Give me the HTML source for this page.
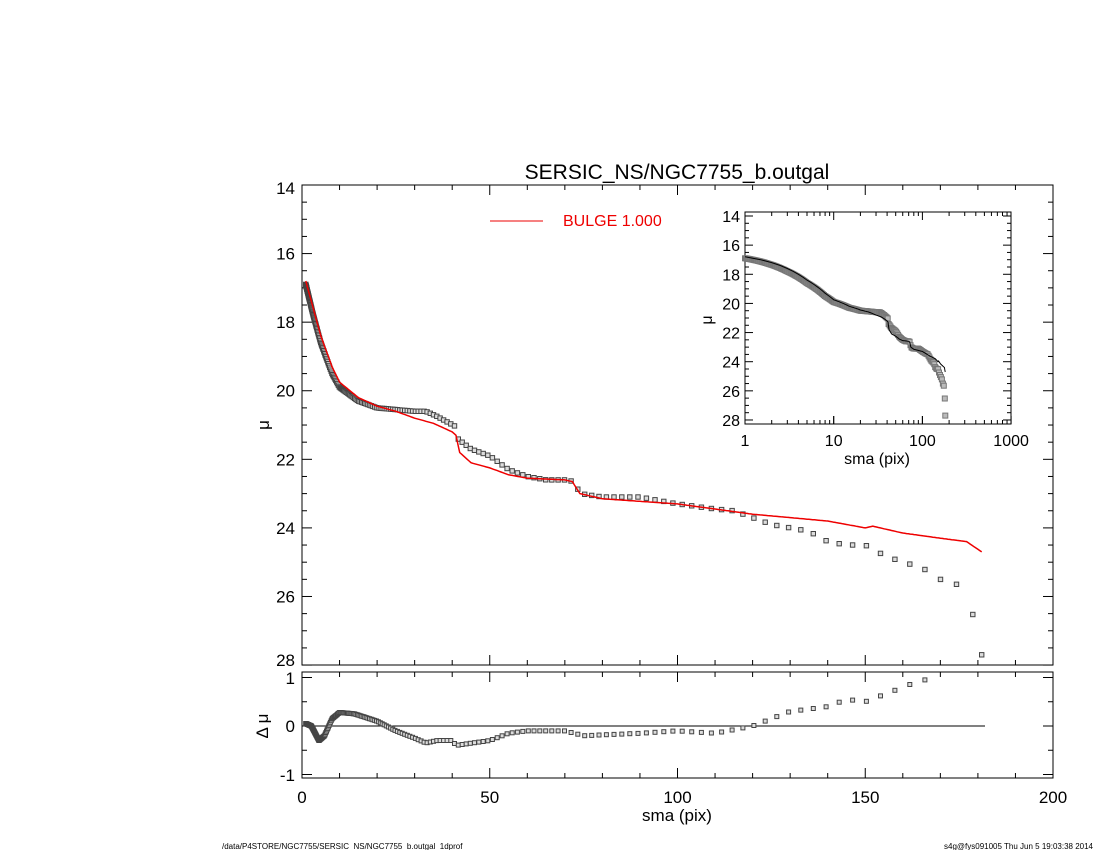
<!DOCTYPE html>
<html><head><meta charset="utf-8"><style>
html,body{margin:0;padding:0;background:#fff;}
svg{display:block;font-family:"Liberation Sans",sans-serif;}
</style></head><body>
<svg id="s" width="1100" height="850" xmlns="http://www.w3.org/2000/svg">
<text x="677" y="179" font-size="21" text-anchor="middle">SERSIC_NS/NGC7755_b.outgal</text>
<line x1="490" y1="221" x2="543" y2="221" stroke="#e00" stroke-width="1"/>
<text x="563" y="226" font-size="16" fill="#e00">BULGE  1.000</text>
<text x="677" y="821" font-size="17" text-anchor="middle">sma (pix)</text>
<text transform="translate(269,425) rotate(-90)" font-size="17" text-anchor="middle">μ</text>
<text transform="translate(268,726) rotate(-90)" font-size="17" text-anchor="middle">Δ μ</text>
<text x="877" y="464" font-size="16" text-anchor="middle">sma (pix)</text>
<text transform="translate(712,320) rotate(-90)" font-size="16" text-anchor="middle">μ</text>
<text x="222" y="849" font-size="8">/data/P4STORE/NGC7755/SERSIC_NS/NGC7755_b.outgal_1dprof</text>
<text x="1093" y="849" font-size="8" text-anchor="end">s4g@fys091005  Thu Jun  5 19:03:38 2014</text>
<g id="g"></g>
</svg>
<script>
const g=document.getElementById('g');let h='';
function interp(t,x){if(x<=t[0][0])return t[0][1];for(let i=1;i<t.length;i++){if(x<=t[i][0]){const a=t[i-1],b=t[i];return a[1]+(b[1]-a[1])*(x-a[0])/(b[0]-a[0]);}}return t[t.length-1][1];}
const obs=[[1,16.9],[3,17.8],[5,18.6],[8,19.5],[10,19.9],[15,20.3],[20,20.5],[30,20.6],[33,20.6],[36,20.75],[41,21.05],[41.5,21.4],[45,21.7],[50,21.9],[55,22.3],[60,22.5],[65,22.6],[70,22.6],[72.5,22.65],[74,23.0],[80,23.1],[90,23.1],[95,23.2],[100,23.3],[110,23.45],[115,23.5],[120,23.7],[125,23.9],[130,24.0],[135,24.1],[140,24.4],[145,24.5],[150,24.5],[155,24.8],[160,25.0],[165,25.15],[170,25.5],[174,25.6],[178,26.2],[181,27.7]];
const mod=[[1,16.8],[3,17.6],[5,18.4],[8,19.3],[10,19.75],[15,20.2],[20,20.45],[25,20.6],[30,20.8],[35,20.95],[40,21.2],[41,21.3],[42,21.8],[45,22.1],[50,22.25],[55,22.45],[60,22.55],[70,22.6],[72,22.65],[74,23.0],[80,23.15],[100,23.3],[120,23.6],[140,23.8],[150,24.0],[152,23.95],[160,24.15],[170,24.3],[177,24.4],[181,24.7]];
const res=[[1,0.05],[2.5,0],[4.5,-0.3],[6,-0.2],[8,0.15],[10,0.28],[14,0.25],[20,0.1],[25,-0.1],[30,-0.25],[33,-0.35],[36,-0.3],[40,-0.3],[41,-0.4],[50,-0.3],[55,-0.15],[60,-0.1],[70,-0.1],[75,-0.2],[90,-0.15],[100,-0.1],[110,-0.15],[120,0],[130,0.3],[140,0.4],[145,0.55],[150,0.5],[160,0.8],[165,0.95],[168,0.95]];
const X=x=>302+x*3.755, Y=m=>185+(m-14)*34.29, R=r=>726-r*48.5;
const LX=x=>745+Math.log10(x)*88.7, LY=m=>216+(m-14)*14.57;
function ln(a,b,c,d,col,w){h+=`<line x1="${a}" y1="${b}" x2="${c}" y2="${d}" stroke="${col||'#000'}" stroke-width="${w||1}"/>`;}
function tx(x,y,s,sz,anc){h+=`<text x="${x}" y="${y}" font-size="${sz}" text-anchor="${anc||'middle'}">${s}</text>`;}
h+=`<rect x="302" y="185" width="751" height="480" fill="none" stroke="#000"/>`;
h+=`<rect x="302" y="672" width="751" height="106" fill="none" stroke="#000"/>`;
h+=`<rect x="745" y="212" width="266" height="212" fill="none" stroke="#000"/>`;
for(let v=0;v<=200;v+=10){const x=X(v),L=v%50==0?10:5;ln(x,665,x,665-L);ln(x,185,x,185+L);ln(x,778,x,778-L);ln(x,672,x,672+L);if(v%50==0)tx(x,803,v,17);}
for(let m=14;m<=28;m+=0.5){const y=Y(m),L=m%2==0?10:5;ln(302,y,302+L,y);ln(1053,y,1053-L,y);if(m%2==0){let yy=m==28?y+1:(m==14?y+9:y+6);tx(295,yy,m,17,'end');}}
for(let r=-1;r<=1;r+=0.5){const y=R(r),L=r%1==0?10:5;ln(302,y,302+L,y);ln(1053,y,1053-L,y);}
tx(295,684,'1',17,'end');tx(295,732,'0',17,'end');tx(295,781,'-1',17,'end');
ln(302,R(0),985,R(0),'#000',1);
for(let d=0;d<3;d++)for(let k=1;k<10;k++){const x=LX(k*Math.pow(10,d)),L=k==1?8:4;ln(x,424,x,424-L);ln(x,212,x,212+L);}
[1,10,100,1000].forEach((v,i)=>{tx(LX(v),446,v,16);ln(LX(v),424,LX(v),416);});
for(let m=14;m<=28;m+=0.5){const y=LY(m),L=m%2==0?8:4;ln(745,y,745+L,y);ln(1011,y,1011-L,y);if(m%2==0)tx(740,y+6,m,16,'end');}
let xs=[];for(let x=1;x<=179;x*=1.025)xs.push(x);xs.push(181);
let pm='',pi='';
for(let x=1;x<=181;x+=0.5){pm+=`${X(x).toFixed(1)},${Y(interp(mod,x)).toFixed(1)} `;pi+=`${LX(x).toFixed(1)},${LY(interp(mod,x)).toFixed(1)} `;}
xs.forEach(x=>{const m=interp(obs,x);h+=`<rect x="${(X(x)-2.2).toFixed(1)}" y="${(Y(m)-2.2).toFixed(1)}" width="4.4" height="4.4" fill="#ddd" stroke="#444" stroke-width="1"/>`;
h+=`<rect x="${(LX(x)-2.5).toFixed(1)}" y="${(LY(m)-2.5).toFixed(1)}" width="5" height="5" fill="#bbb" stroke="#777" stroke-width="1"/>`;
if(x<=168){const r=interp(res,x);h+=`<rect x="${(X(x)-2).toFixed(1)}" y="${(R(r)-2).toFixed(1)}" width="4" height="4" fill="#ddd" stroke="#444" stroke-width="1"/>`;}});
h+=`<polyline points="${pm}" fill="none" stroke="#e00" stroke-width="1.5"/>`;
h+=`<polyline points="${pi}" fill="none" stroke="#000" stroke-width="1"/>`;
g.innerHTML=h;
</script>
</body></html>
